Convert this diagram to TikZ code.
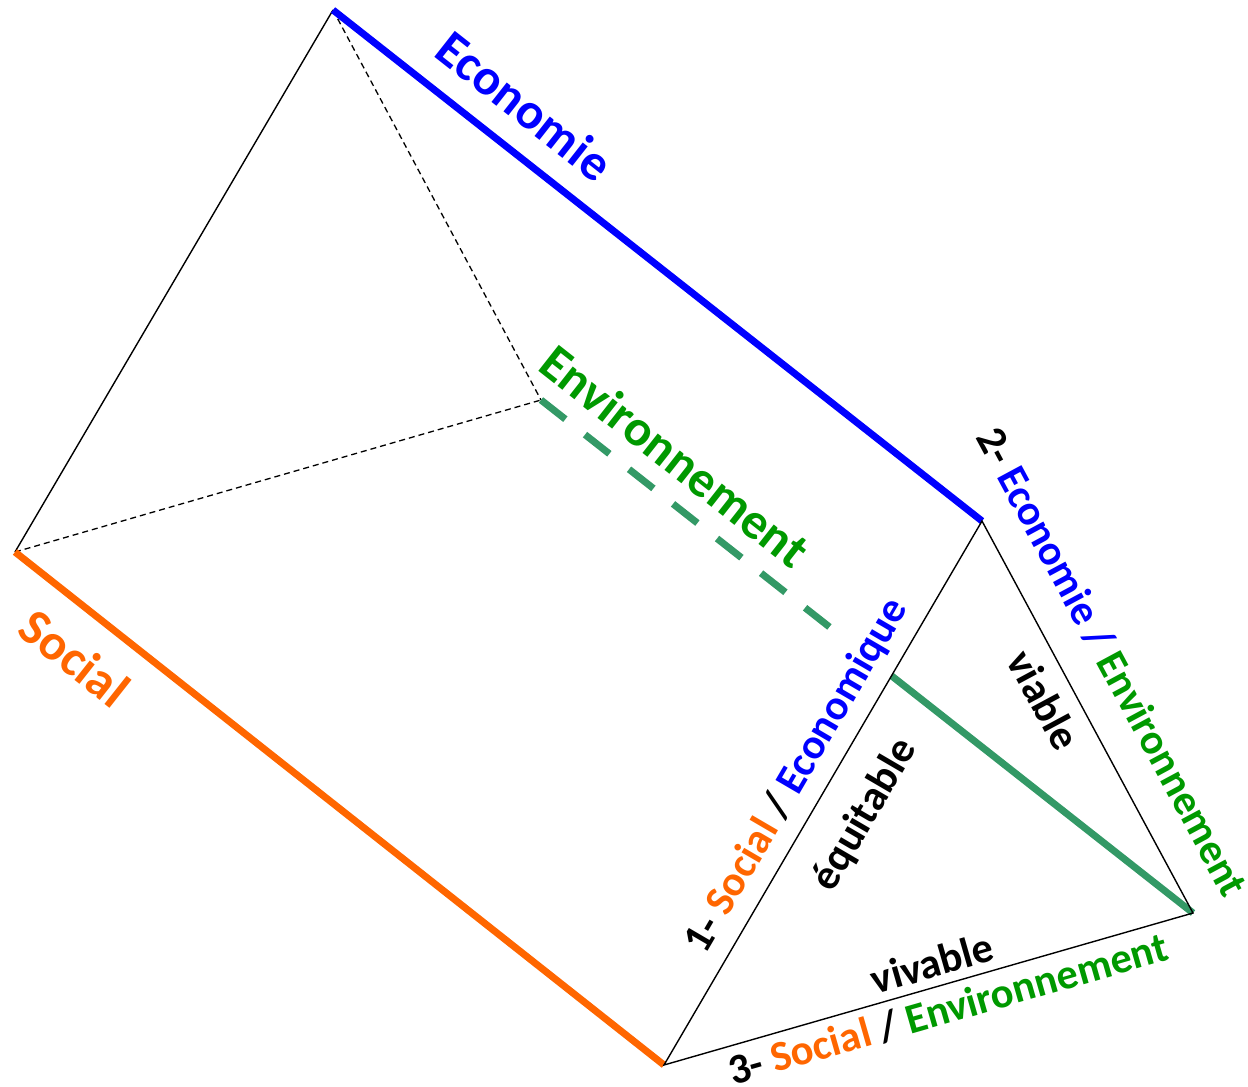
\documentclass[tikz,border=0pt]{standalone}
\usepackage{fontspec}
\setmainfont{Carlito}
\usetikzlibrary{calc}
\definecolor{eco}{RGB}{0,0,255}
\definecolor{soc}{RGB}{255,102,0}
\definecolor{envtxt}{RGB}{0,153,0}
\definecolor{envline}{RGB}{51,153,102}
\begin{document}
\begin{tikzpicture}[x=1pt,y=-1pt,
  thinedge/.style={line width=1.4pt,black},
  hidden/.style={line width=1.3pt,black,dash pattern=on 6pt off 4pt},
  thick edge/.style={line width=7pt},
  lbl/.style={font=\fontsize{51}{60}\selectfont\bfseries,inner sep=0pt},
  slbl/.style={font=\fontsize{42.5}{50}\selectfont\bfseries,inner sep=0pt}]
\useasboundingbox (0,0) rectangle (1248,1087);
\coordinate (A) at (333,10);
\coordinate (L) at (15,552);
\coordinate (B) at (541,400);
\coordinate (C) at (982,521);
\coordinate (D) at (664,1065);
\coordinate (E) at (1193,913);
\coordinate (X) at (intersection of B--E and C--D);
\coordinate (G) at ($(B)!0.445!(E)$);
% back triangle
\draw[thinedge] (A) -- (L);
\draw[hidden] (A) -- (B);
\draw[hidden] (L) -- (B);
% long edges
\draw[thick edge,eco] (A) -- (C);
\draw[thick edge,soc] (L) -- (D);
\draw[thick edge,envline,dash pattern=on 31pt off 25pt] (B) -- (G);
\draw[thick edge,envline] (X) -- (E);
% front triangle
\draw[thinedge] (C) -- (D) -- (E) -- cycle;
% labels
\node[lbl,text=eco,rotate=-38.2] (leco) at (525,106) {Economie};
\node[lbl,text=envtxt,rotate=-38.2] (lenv) at (675,456) {Environnement};
\node[lbl,text=soc,rotate=-38.3] (lsoc) at (75,658) {Social};
\node[slbl,rotate=59.7] (l1) at (797,776) {1- \textcolor{soc}{Social} / \textcolor{eco}{Economique}};
\node[slbl,rotate=59.7] (lequ) at (865,815) {équitable};
\node[slbl,rotate=-61.7] (l2) at (1112,662) {2- \textcolor{eco}{Economie / }\textcolor{envtxt}{Environnement}};
\node[slbl,rotate=-61.7] (lvia) at (1044,700) {viable};
\node[slbl,rotate=16] (l3) at (948,1009) {3- \textcolor{soc}{Social} / \textcolor{envtxt}{Environnement}};
\node[slbl,rotate=16] (lviv) at (932,963) {vivable};
\end{tikzpicture}
\end{document}
